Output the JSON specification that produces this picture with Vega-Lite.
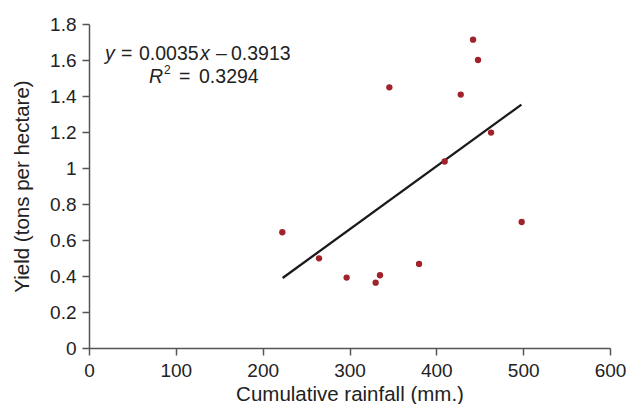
{
  "$schema": "https://vega.github.io/schema/vega-lite/v6.json",
  "width": 521,
  "height": 324,
  "autosize": {"type": "none"},
  "padding": {"left": 89, "top": 24, "right": 19, "bottom": 56},
  "background": "white",
  "config": {
    "view": {"stroke": null},
    "font": "Liberation Sans",
    "axis": {
      "grid": false,
      "domainColor": "#555555",
      "domainWidth": 1.5,
      "tickColor": "#555555",
      "tickWidth": 1.5,
      "tickSize": 7,
      "labelFontSize": 19,
      "labelColor": "#222222",
      "labelOverlap": false,
      "titleFontSize": 20.5,
      "titleFontWeight": "normal",
      "titleColor": "#222222"
    }
  },
  "datasets": {
    "points": [
      {"rain": 222.6, "yield": 0.643},
      {"rain": 264.9, "yield": 0.498},
      {"rain": 296.7, "yield": 0.391},
      {"rain": 330.1, "yield": 0.363},
      {"rain": 335.1, "yield": 0.404},
      {"rain": 380.1, "yield": 0.467},
      {"rain": 498.3, "yield": 0.700},
      {"rain": 345.9, "yield": 1.448},
      {"rain": 442.3, "yield": 1.713},
      {"rain": 448.0, "yield": 1.600},
      {"rain": 428.1, "yield": 1.408},
      {"rain": 463.0, "yield": 1.197},
      {"rain": 409.6, "yield": 1.036}
    ],
    "fit": [
      {"rain": 223, "yield": 0.389},
      {"rain": 498, "yield": 1.352}
    ],
    "italic": [
      {"label": "y", "rain": 18.4, "yield": 1.598},
      {"label": "x", "rain": 127.8, "yield": 1.598},
      {"label": "R", "rain": 69.1, "yield": 1.472}
    ],
    "normal": [
      {"label": "=", "rain": 36.9, "yield": 1.598},
      {"label": "0.0035", "rain": 57.6, "yield": 1.598},
      {"label": "–", "rain": 146.3, "yield": 1.598},
      {"label": "0.3913", "rain": 163.5, "yield": 1.598},
      {"label": "=", "rain": 103.6, "yield": 1.472},
      {"label": "0.3294", "rain": 126.7, "yield": 1.472}
    ],
    "sup": [
      {"label": "2", "rain": 86.4, "yield": 1.521}
    ]
  },
  "layer": [
    {
      "data": {"name": "fit"},
      "mark": {"type": "line", "color": "#1a1a1a", "strokeWidth": 2.3},
      "encoding": {
        "x": {
          "field": "rain", "type": "quantitative",
          "scale": {"domain": [0, 600], "nice": false},
          "axis": {"values": [0, 100, 200, 300, 400, 500, 600], "tickCount": 20, "format": "d", "title": "Cumulative rainfall (mm.)", "labelPadding": 6, "titlePadding": 4, "labelFlush": false, "labelOverlap": false}
        },
        "y": {
          "field": "yield", "type": "quantitative",
          "scale": {"domain": [0, 1.8], "nice": false},
          "axis": {"values": [0, 0.2, 0.4, 0.6, 0.8, 1, 1.2, 1.4, 1.6, 1.8], "tickCount": 20, "format": "~f", "title": "Yield (tons per hectare)", "labelPadding": 6, "titlePadding": 17, "labelFlush": false, "labelOverlap": false, "labelBound": false}
        }
      }
    },
    {
      "data": {"name": "points"},
      "mark": {"type": "circle", "color": "#a0232b", "opacity": 1, "size": 40},
      "encoding": {
        "x": {"field": "rain", "type": "quantitative"},
        "y": {"field": "yield", "type": "quantitative"}
      }
    },
    {
      "data": {"name": "italic"},
      "mark": {"type": "text", "align": "left", "baseline": "alphabetic", "fontSize": 19.5, "fontStyle": "italic", "color": "#222222"},
      "encoding": {
        "x": {"field": "rain", "type": "quantitative"},
        "y": {"field": "yield", "type": "quantitative"},
        "text": {"field": "label"}
      }
    },
    {
      "data": {"name": "normal"},
      "mark": {"type": "text", "align": "left", "baseline": "alphabetic", "fontSize": 19.5, "color": "#222222"},
      "encoding": {
        "x": {"field": "rain", "type": "quantitative"},
        "y": {"field": "yield", "type": "quantitative"},
        "text": {"field": "label"}
      }
    },
    {
      "data": {"name": "sup"},
      "mark": {"type": "text", "align": "left", "baseline": "alphabetic", "fontSize": 12, "color": "#222222"},
      "encoding": {
        "x": {"field": "rain", "type": "quantitative"},
        "y": {"field": "yield", "type": "quantitative"},
        "text": {"field": "label"}
      }
    }
  ]
}
